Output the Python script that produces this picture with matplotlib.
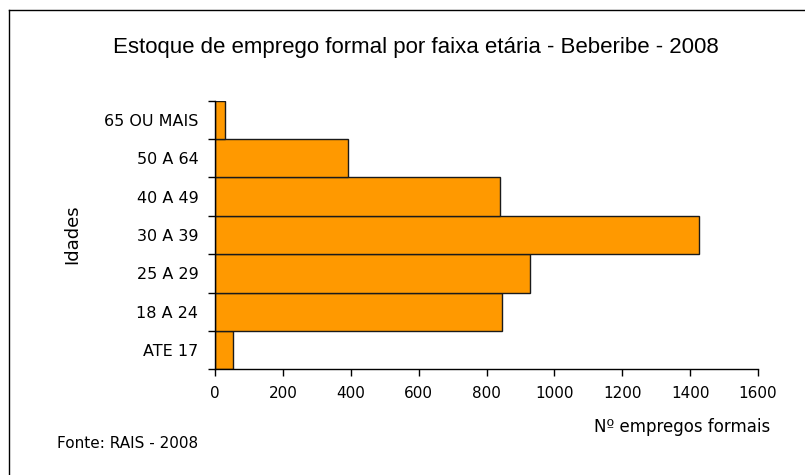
import matplotlib
matplotlib.use("Agg")
import matplotlib.pyplot as plt
from matplotlib.lines import Line2D
import numpy as np

categories = ["ATE 17", "18 A 24", "25 A 29", "30 A 39", "40 A 49", "50 A 64", "65 OU MAIS"]
values = [54, 845, 929, 1425, 840, 393, 30]
xticks = [0, 200, 400, 600, 800, 1000, 1200, 1400, 1600]

W, H = 805, 475
fig = plt.figure(figsize=(W / 100, H / 100), dpi=100)
ax = fig.add_axes([215 / W, 1 - 369.3 / H, (758 - 215) / W, (369.3 - 100.7) / H])

y = np.arange(len(categories))
ax.barh(y, values, height=1.0, color="#FF9900", edgecolor="#1a1a1a", linewidth=1.0)

ax.set_xlim(0, 1600)
ax.set_ylim(-0.5, len(categories) - 0.5)

ax.set_xticks(xticks)
ax.set_xticklabels([str(v) for v in xticks], fontsize=11, family="DejaVu Sans")
ax.tick_params(axis="x", direction="out", length=5, width=1, pad=7, colors="#000000")

ax.set_yticks(np.arange(len(categories) + 1) - 0.5)
ax.set_yticklabels([])
ax.set_yticks(y, minor=True)
ax.set_yticklabels(categories, minor=True, fontsize=11.5, family="DejaVu Sans")
ax.tick_params(axis="y", which="major", direction="out", length=5, width=1)
ax.tick_params(axis="y", which="minor", length=0, pad=12)

for s in ["top", "right"]:
    ax.spines[s].set_visible(False)
ax.spines["left"].set_linewidth(1)
ax.spines["bottom"].set_linewidth(1)

fig.text(416 / W, 1 - 48 / H, "Estoque de emprego formal por faixa etária - Beberibe - 2008",
         ha="center", va="center", fontsize=16, family="Liberation Sans")
fig.text(72 / W, 1 - 234 / H, "Idades", rotation=90, ha="center", va="center",
         fontsize=13, family="DejaVu Sans")
fig.text(770 / W, 1 - 427 / H, "Nº empregos formais", ha="right", va="center",
         fontsize=12, family="DejaVu Sans")
fig.text(57 / W, 1 - 443 / H, "Fonte: RAIS - 2008", ha="left", va="center",
         fontsize=11, family="DejaVu Sans")

# frame border (left and top visible)
fig.add_artist(Line2D([9 / W, 9 / W], [0, 1 - 10 / H], color="black", linewidth=1.0,
                      transform=fig.transFigure))
fig.add_artist(Line2D([9 / W, 1], [1 - 10 / H, 1 - 10 / H], color="black", linewidth=1.0,
                      transform=fig.transFigure))

fig.savefig("out.png", dpi=100)
